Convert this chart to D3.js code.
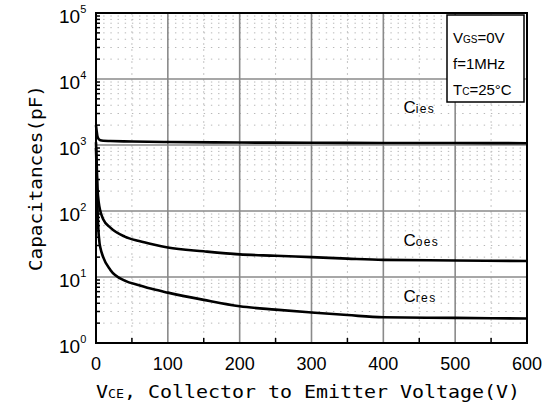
<!DOCTYPE html>
<html>
<head>
<meta charset="utf-8">
<script src="https://cdn.jsdelivr.net/npm/d3@7"></script>
<style>
  body { margin: 0; background: #fff; }
  svg { display: block; }
</style>
</head>
<body>
<div id="chart"></div>
<script>
// data (V in volts, C in pF)
var vCies = [0, 1, 2, 4, 6, 10, 20, 50, 100, 200, 300, 400, 500, 600];
var cies  = [2000, 1600, 1350, 1220, 1180, 1160, 1150, 1130, 1110, 1090, 1080, 1075, 1070, 1065];

var vCoes = [0, 1, 2, 4, 6, 8, 10, 20, 40, 60, 80, 100, 150, 200, 250, 300, 350, 400, 500, 600];
var coes  = [1100, 500, 230, 130, 100, 85, 75, 56, 41, 35, 31, 28, 24.5, 22, 21, 20, 19, 18.2, 17.8, 17.5];

var vCres = [0, 1, 2, 3, 5, 6, 10, 20, 40, 60, 80, 100, 150, 200, 250, 300, 350, 400, 500, 600];
var cres  = [900, 350, 120, 60, 32, 28, 20, 12.8, 8.8, 7.5, 6.5, 5.8, 4.5, 3.6, 3.2, 2.9, 2.65, 2.45, 2.4, 2.35];

var xTicks = [0, 100, 200, 300, 400, 500, 600];
var yDecades = [0, 1, 2, 3, 4, 5];
var curveLabels = [
  {big: "C", sub: "ies", v: 428, c: 3100},
  {big: "C", sub: "oes", v: 428, c: 30},
  {big: "C", sub: "res", v: 428, c: 4.2}
];
var legendLines = [
  [{t: "V", s: 0}, {t: "GS", s: 1}, {t: "=0V", s: 0}],
  [{t: "f=1MHz", s: 0}],
  [{t: "T", s: 0}, {t: "C", s: 1}, {t: "=25°C", s: 0}]
];

var W = 551, H = 412;
var L = 96, R = 527, T = 13, B = 343;

var svg = d3.select("#chart").append("svg")
    .attr("width", W)
    .attr("height", H);

var x = d3.scaleLinear().domain([0, 600]).range([L, R]);
var y = d3.scaleLog().domain([1, 1e5]).range([B, T]);

// minor horizontal dotted lines (2..9 in each decade)
var minorY = [];
yDecades.slice(0, 5).forEach(function(d) {
  for (var k = 2; k <= 9; k++) minorY.push(k * Math.pow(10, d));
});
svg.append("g").selectAll("line")
    .data(minorY)
    .enter().append("line")
    .attr("x1", L).attr("x2", R)
    .attr("y1", function(d) { return y(d); })
    .attr("y2", function(d) { return y(d); })
    .attr("stroke", "#b8b8b8")
    .attr("stroke-width", 1)
    .attr("stroke-dasharray", "1.4,5.78");

// minor vertical dotted lines at the 50s
var minorX = [50, 150, 250, 350, 450, 550];
svg.append("g").selectAll("line")
    .data(minorX)
    .enter().append("line")
    .attr("x1", function(d) { return x(d); })
    .attr("x2", function(d) { return x(d); })
    .attr("y1", T).attr("y2", B)
    .attr("stroke", "#c4c4c4")
    .attr("stroke-width", 1)
    .attr("stroke-dasharray", "2,4");

// major grid
svg.append("g").selectAll("line")
    .data(xTicks.slice(1, -1))
    .enter().append("line")
    .attr("x1", function(d) { return x(d); })
    .attr("x2", function(d) { return x(d); })
    .attr("y1", T).attr("y2", B)
    .attr("stroke", "#8a8a8a")
    .attr("stroke-width", 1.6);
svg.append("g").selectAll("line")
    .data(yDecades.slice(1, -1))
    .enter().append("line")
    .attr("x1", L).attr("x2", R)
    .attr("y1", function(d) { return y(Math.pow(10, d)); })
    .attr("y2", function(d) { return y(Math.pow(10, d)); })
    .attr("stroke", "#8a8a8a")
    .attr("stroke-width", 1.6);

// inward ticks: left minor, bottom at 50s
svg.append("g").selectAll("line")
    .data(minorY)
    .enter().append("line")
    .attr("x1", L).attr("x2", L + 4)
    .attr("y1", function(d) { return y(d); })
    .attr("y2", function(d) { return y(d); })
    .attr("stroke", "#000")
    .attr("stroke-width", 1.5);
svg.append("g").selectAll("line")
    .data(minorX)
    .enter().append("line")
    .attr("x1", function(d) { return x(d); })
    .attr("x2", function(d) { return x(d); })
    .attr("y1", B).attr("y2", B - 5)
    .attr("stroke", "#000")
    .attr("stroke-width", 1.5);

// curves
var line = d3.line()
    .x(function(d) { return x(d[0]); })
    .y(function(d) { return y(d[1]); })
    .curve(d3.curveMonotoneX);

[[vCies, cies], [vCoes, coes], [vCres, cres]].forEach(function(s) {
  svg.append("path")
      .datum(d3.zip(s[0], s[1]))
      .attr("d", line)
      .attr("fill", "none")
      .attr("stroke", "#000")
      .attr("stroke-width", 2.6)
      .attr("stroke-linejoin", "round");
});

// frame
svg.append("rect")
    .attr("x", L).attr("y", T)
    .attr("width", R - L).attr("height", B - T)
    .attr("fill", "none")
    .attr("stroke", "#000")
    .attr("stroke-width", 2);

// curve labels
curveLabels.forEach(function(c) {
  var t = svg.append("text")
      .attr("x", x(c.v))
      .attr("y", y(c.c))
      .attr("font-family", "Liberation Sans, Arial, sans-serif")
      .attr("fill", "#000");
  t.append("tspan").attr("font-size", 17).text(c.big);
  t.append("tspan").attr("font-size", 12).attr("letter-spacing", 1.4).text(c.sub);
});

// x tick labels
svg.append("g").selectAll("text")
    .data(xTicks)
    .enter().append("text")
    .attr("x", function(d) { return x(d); })
    .attr("y", 370)
    .attr("text-anchor", "middle")
    .attr("font-family", "Liberation Sans, Arial, sans-serif")
    .attr("font-size", 18)
    .text(function(d) { return d; });

// y tick labels 10^n
yDecades.forEach(function(d) {
  var t = svg.append("text")
      .attr("x", 59)
      .attr("y", y(Math.pow(10, d)) + 10)
      .attr("font-family", "Liberation Sans, Arial, sans-serif")
      .attr("font-size", 19);
  t.append("tspan").text("10");
  t.append("tspan").attr("font-size", 11).attr("dy", -10).text(d);
});

// axis titles
svg.append("text")
    .attr("x", 96)
    .attr("y", 398)
    .attr("font-family", "DejaVu Sans Mono, monospace")
    .attr("font-size", 18)
    .attr("textLength", 424)
    .attr("lengthAdjust", "spacingAndGlyphs")
    .call(function(t) {
      t.append("tspan").text("V");
      t.append("tspan").attr("font-size", 12).text("CE");
      t.append("tspan").text(", Collector to Emitter Voltage(V)");
    });

svg.append("text")
    .attr("transform", "translate(42,178) rotate(-90)")
    .attr("text-anchor", "middle")
    .attr("font-family", "DejaVu Sans Mono, monospace")
    .attr("font-size", 18)
    .attr("textLength", 186)
    .attr("lengthAdjust", "spacingAndGlyphs")
    .text("Capacitances(pF)");

// condition box
svg.append("rect")
    .attr("x", 447).attr("y", 15)
    .attr("width", 77).attr("height", 87)
    .attr("fill", "#fff")
    .attr("stroke", "#000")
    .attr("stroke-width", 1.5);

legendLines.forEach(function(parts, i) {
  var t = svg.append("text")
      .attr("x", 453)
      .attr("y", 43 + i * 26)
      .attr("font-family", "Liberation Sans, Arial, sans-serif")
      .attr("font-size", 15);
  parts.forEach(function(p) {
    t.append("tspan").attr("font-size", p.s ? 10 : 15).text(p.t);
  });
});
</script>
</body>
</html>
